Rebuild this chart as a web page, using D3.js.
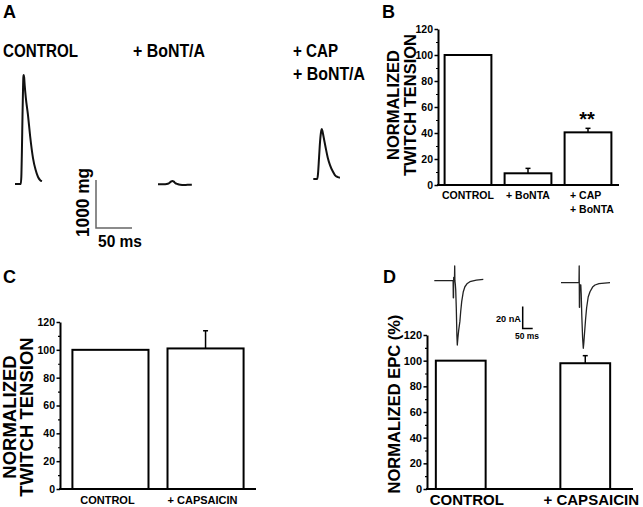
<!DOCTYPE html>
<html><head><meta charset="utf-8">
<script src="https://cdn.jsdelivr.net/npm/d3@7"></script>
<style>
body{margin:0;background:#fff}
svg{display:block}
text{font-family:"Liberation Sans",Arial,Helvetica,sans-serif;font-weight:bold;fill:#000}
</style>
</head><body>
<svg id="c" width="643" height="507"></svg>
<script>
// ---------------- DATA ----------------
// Panel A: twitch traces, [time (ms), tension (mg)]
const twitchLabels = ["CONTROL", "+ BoNT/A", "+ CAP", "+ BoNT/A"];
const twitchControl = [[0,0],[8,0],[8.8,150],[9.6,700],[10.4,1400],[11.1,1950],[11.6,2220],[12.1,2270],[12.7,2220],[13.5,2050],[15,1800],[18,1440],[21,1000],[25,540],[28.5,300],[32,145],[35,80],[37.5,60]];
const twitchBoNT = [[0,0],[8,0],[12,5],[15,20],[18,55],[20,70],[22,55],[24,25],[27,5],[31,-10],[36,-15],[41,-10],[47,-10]];
const twitchCapBoNT = [[0,0],[5.5,0],[6.5,100],[8,450],[9.5,800],[11,1000],[11.7,1040],[12.5,1010],[14,900],[17.2,650],[20,450],[23.2,290],[27,160],[30,83],[34,40],[37,28]];
const twitchScaleBar = {force: 1000, time: 50, forceLabel: "1000 mg", timeLabel: "50 ms"};

// Panel B
const bCategories = ["CONTROL", "+ BoNTA", "+ CAP|+ BoNTA"];
const bValues = [100, 9, 40.5];
const bErrors = [0, 3.8, 3.1];
const bSignificance = ["", "", "**"];

// Panel C
const cCategories = ["CONTROL", "+ CAPSAICIN"];
const cValues = [100, 101];
const cErrors = [0, 12.7];

// Panel D
const dCategories = ["CONTROL", "+ CAPSAICIN"];
const dValues = [100, 98];
const dErrors = [0, 5.9];
// EPC traces [time (ms), current (nA)]
const epcControl = [[0,0],[94,0.3],[95,-15.5],[96,-15.5],[97,3],[101,3],[102,13.4],[103,0],[105,-3],[107,-8],[110,-25],[113,-50],[115,-58.5],[118,-52],[122,-45],[128,-37],[132,-28],[137,-19],[145,-10],[153,-5.5],[165,-2.5],[178,-0.9],[210,0.5],[245,1.3]];
const epcCapsaicin = [[0,0],[90,0],[91,15.2],[92,-22.4],[93,-22.4],[94,-2],[99,-2],[101,-10],[104,-30],[108,-50],[111.5,-59.6],[114,-55],[118,-45],[123,-33],[128,-23],[136,-13],[145,-8.2],[158,-4],[170,-2.1],[190,-0.8],[245,0]];
const epcScaleBar = {current: 20, time: 50, currentLabel: "20 nA", timeLabel: "50 ms"};

const yTicks = [0, 20, 40, 60, 80, 100, 120];
const yMinorTicks = [10, 30, 50, 70, 90, 110];

// ---------------- DRAW ----------------
const svg = d3.select("#c");

// panel letters
[["A",3,18],["B",382,18],["C",3,283],["D",383,283]].forEach(([t,x,y]) =>
  svg.append("text").attr("x",x).attr("y",y).attr("font-size",18).text(t));

// ---- Panel A ----
const tScale = d3.scaleLinear().domain([0, 50]).range([0, 36]);
const fScale = d3.scaleLinear().domain([0, 1000]).range([0, -48]);
const twitchLine = d3.line().x(d => tScale(d[0])).y(d => fScale(d[1])).curve(d3.curveMonotoneX);
[[twitchControl, 15, 184], [twitchBoNT, 158, 184.3], [twitchCapBoNT, 313.3, 179]].forEach(([data, x0, y0]) => {
  svg.append("path").attr("transform", `translate(${x0},${y0})`)
    .attr("d", twitchLine(data)).attr("fill", "none").attr("stroke", "#111")
    .attr("stroke-width", 2).attr("stroke-linejoin", "round");
});
const aLabelPos = [[3,57,75],[133,57,72],[293,57,45],[293,80,72]];
twitchLabels.forEach((t, i) => {
  const [x, y, w] = aLabelPos[i];
  svg.append("text").attr("x", x).attr("y", y).attr("font-size", 18.5)
    .attr("textLength", w).attr("lengthAdjust", "spacingAndGlyphs").text(t);
});
const sbA = svg.append("g").attr("transform", "translate(96,228)");
sbA.append("path").attr("d", `M0,${fScale(twitchScaleBar.force)}V0H${tScale(twitchScaleBar.time)}`)
  .attr("fill", "none").attr("stroke", "#666").attr("stroke-width", 1.5);
svg.append("text").attr("transform", "translate(89,202.5) rotate(-90)").attr("text-anchor", "middle")
  .attr("font-size", 18).attr("textLength", 69).attr("lengthAdjust", "spacingAndGlyphs").text(twitchScaleBar.forceLabel);
svg.append("text").attr("x", 98).attr("y", 247).attr("font-size", 16)
  .attr("textLength", 44).attr("lengthAdjust", "spacingAndGlyphs").text(twitchScaleBar.timeLabel);

// ---- Bar panels ----
function barPanel(cfg) {
  const g = svg.append("g");
  const x = d3.scaleBand().domain(cfg.cats).range(cfg.xr).paddingInner(cfg.pi).paddingOuter(cfg.po);
  const y = d3.scaleLinear().domain([0, 120]).range(cfg.yr);
  const bw = x.bandwidth();
  // error bars
  cfg.values.forEach((v, i) => {
    const e = cfg.errors[i];
    if (!e) return;
    const cx = x(cfg.cats[i]) + bw / 2;
    g.append("line").attr("x1", cx).attr("x2", cx).attr("y1", y(v)).attr("y2", y(v + e))
      .attr("stroke", "#000").attr("stroke-width", 1.5);
    g.append("line").attr("x1", cx - 2.5).attr("x2", cx + 2.5).attr("y1", y(v + e)).attr("y2", y(v + e))
      .attr("stroke", "#000").attr("stroke-width", 1.5);
  });
  // bars
  g.selectAll("rect.bar").data(cfg.values).join("rect").attr("class", "bar")
    .attr("x", (d, i) => x(cfg.cats[i])).attr("width", bw)
    .attr("y", d => y(d)).attr("height", d => y(0) - y(d))
    .attr("fill", "#fff").attr("stroke", "#000").attr("stroke-width", 2);
  // axes
  const ax = g.append("g").attr("transform", `translate(${cfg.axisX},0)`)
    .call(d3.axisLeft(y).tickValues(yTicks).tickSize(3.5).tickSizeOuter(0).tickPadding(1.5));
  ax.select(".domain").attr("stroke-width", 2);
  ax.selectAll(".tick line").attr("stroke-width", 1.5);
  ax.selectAll(".tick text").attr("font-family", cfg.tickFont || null)
    .attr("font-size", cfg.tickSize).attr("font-weight", "bold").attr("fill", "#000");
  const axm = g.append("g").attr("transform", `translate(${cfg.axisX},0)`)
    .call(d3.axisLeft(y).tickValues(yMinorTicks).tickSize(2).tickSizeOuter(0).tickFormat(""));
  axm.select(".domain").remove();
  axm.selectAll(".tick line").attr("stroke-width", 1.2);
  g.append("line").attr("x1", cfg.axisX - 1).attr("x2", cfg.xEnd).attr("y1", y(0)).attr("y2", y(0))
    .attr("stroke", "#000").attr("stroke-width", 2);
  // category labels
  cfg.cats.forEach((c, i) => {
    const lines = c.split("|");
    const cx = x(c) + bw / 2;
    lines.forEach((l, j) => {
      const t = g.append("text").attr("font-size", cfg.catSize).attr("y", cfg.catY + j * cfg.catLH).text(l);
      if (lines.length > 1) t.attr("x", cx - 18).attr("text-anchor", "start");
      else t.attr("x", cx + (cfg.catDx || 0)).attr("text-anchor", "middle");
    });
  });
  // y title
  cfg.title.forEach(([t, bx]) => {
    g.append("text").attr("transform", `translate(${bx},${cfg.titleY}) rotate(-90)`)
      .attr("text-anchor", "middle").attr("font-size", cfg.titleSize).text(t);
  });
  return {x, y, g};
}

const B = barPanel({cats: bCategories, values: bValues, errors: bErrors, xr: [438, 618], pi: 0.22, po: 0.11,
  yr: [185, 29], axisX: 438, xEnd: 619, tickSize: 10.5, catSize: 10.5, catY: 199, catLH: 14,
  title: [["NORMALIZED", 399], ["TWITCH TENSION", 416]], titleY: 105, titleSize: 16.5});
bSignificance.forEach((s, i) => {
  if (!s) return;
  svg.append("text").attr("x", B.x(bCategories[i]) + B.x.bandwidth() / 2 - 1).attr("y", B.y(bValues[i] + bErrors[i]) - 2)
    .attr("text-anchor", "middle").attr("font-size", 20).text(s);
});

barPanel({cats: cCategories, values: cValues, errors: cErrors, xr: [61, 255], pi: 0.2, po: 0.12,
  yr: [489, 322], axisX: 60, xEnd: 256, tickSize: 10.5, catSize: 11, catY: 504, catLH: 14, catDx: -3,
  title: [["NORMALIZED", 16], ["TWITCH TENSION", 33]], titleY: 417, titleSize: 18.5});

barPanel({cats: dCategories, values: dValues, errors: dErrors, xr: [427, 619], pi: 0.6, po: 0.071,
  yr: [489, 335], axisX: 427, xEnd: 633, tickSize: 11, catSize: 15, catY: 505, catLH: 16, catDx: 6,
  title: [["NORMALIZED EPC (%)", 400]], titleY: 404, titleSize: 16.5});

// ---- Panel D traces ----
const etScale = d3.scaleLinear().domain([0, 50]).range([0, 10]);
const iScale = d3.scaleLinear().domain([0, 20]).range([0, -22]);
const epcLine = d3.line().x(d => etScale(d[0])).y(d => iScale(d[1]));
[[epcControl, 434.3, 280.7], [epcCapsaicin, 561, 282.7]].forEach(([data, x0, y0]) => {
  svg.append("path").attr("transform", `translate(${x0},${y0})`)
    .attr("d", epcLine(data)).attr("fill", "none").attr("stroke", "#222")
    .attr("stroke-width", 1.3).attr("stroke-linejoin", "round");
});
const sbD = svg.append("g").attr("transform", "translate(522.7,328.5)");
sbD.append("path").attr("d", `M0,${iScale(epcScaleBar.current)}V0H${etScale(epcScaleBar.time)}`)
  .attr("fill", "none").attr("stroke", "#000").attr("stroke-width", 1.5);
svg.append("text").attr("x", 521).attr("y", 321.5).attr("text-anchor", "end").attr("font-size", 8.5)
  .attr("textLength", 25).attr("lengthAdjust", "spacingAndGlyphs").text(epcScaleBar.currentLabel);
svg.append("text").attr("x", 515).attr("y", 339).attr("font-size", 8.5)
  .attr("textLength", 24).attr("lengthAdjust", "spacingAndGlyphs").text(epcScaleBar.timeLabel);
</script>
</body></html>
